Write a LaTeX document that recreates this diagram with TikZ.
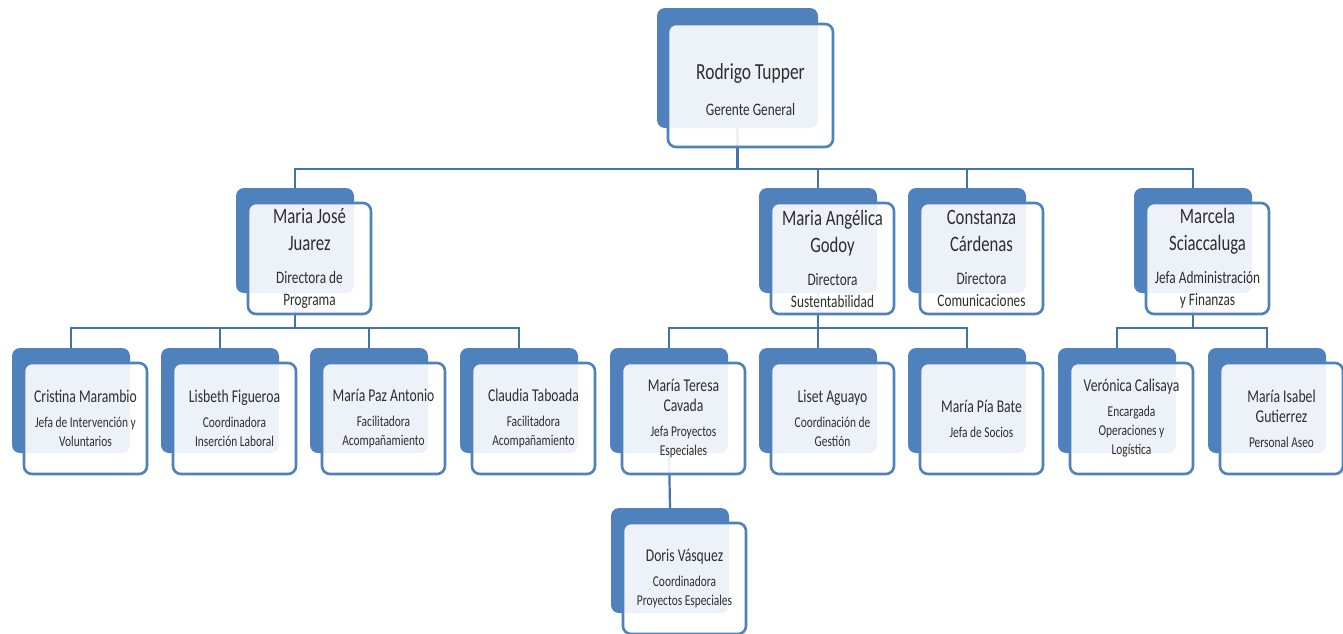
\documentclass[tikz,border=0pt]{standalone}
\usepackage{fontspec}
\setmainfont{Carlito}[FakeStretch=0.76]
\usetikzlibrary{backgrounds}
\definecolor{cblue}{HTML}{4F81BD}
\definecolor{lineblue}{HTML}{4472AA}
\definecolor{txt}{HTML}{2E2E2E}
\newcommand\nmtop{\fontsize{23}{28}\selectfont}
\newcommand\nmmid{\fontsize{22}{27}\selectfont}
\newcommand\nmlow{\fontsize{18}{20}\selectfont}
\newcommand\tttop{\fontsize{17.5}{21}\selectfont}
\newcommand\ttmid{\fontsize{17.5}{22}\selectfont}
\newcommand\ttlow{\fontsize{15}{19}\selectfont}
\tikzset{
  backbox/.style={rectangle, rounded corners=8pt, fill=cblue, draw=none, anchor=north west,
    minimum width=118pt, minimum height=105pt, inner sep=0pt, outer sep=0pt},
  frontbox/.style={rectangle, rounded corners=8pt, draw=cblue, line width=2.6pt, fill=white,
    fill opacity=0.9, text opacity=1, anchor=north west, minimum width=123pt, minimum height=111pt,
    inner sep=0pt, outer sep=0pt, align=center, text=txt},
  midtext/.style={font=\fontsize{17.5}{22}\selectfont},
  lowtext/.style={font=\fontsize{15}{19}\selectfont},
  toptext/.style={font=\fontsize{17.5}{21}\selectfont},
  conn/.style={draw=lineblue, line width=2.2pt},
}
\newcommand\obox[5][]{%
  \node[backbox,#1] (#2B) at (#3,#4) {};
  \node[frontbox,#1] (#2) at (#3+12,#4+15) {#5};}
\begin{document}
\begin{tikzpicture}[x=1pt,y=-1pt]
\useasboundingbox (0,0) rectangle (1343,633);
% top
\node[backbox, minimum width=161pt, minimum height=120pt] (topB) at (657,8) {};
\node[frontbox, toptext, minimum width=165pt, minimum height=123pt] (top) at (668,24)
  {{\nmtop\rule{0pt}{24pt}Rodrigo Tupper}\\[15pt]{\tttop Gerente General}};
% second tier
\obox[midtext]{mj}{236}{188}{{\nmmid Maria José}\\[5pt]{\nmmid Juarez}\\[11pt]{\ttmid Directora de}\\{\ttmid Programa}}
\obox[midtext]{mag}{759}{188}{{\nmmid Maria Angélica}\\[5pt]{\nmmid Godoy}\\[11pt]{\ttmid Directora}\\{\ttmid Sustentabilidad}}
\obox[midtext]{con}{908}{188}{{\nmmid Constanza}\\[5pt]{\nmmid Cárdenas}\\[11pt]{\ttmid Directora}\\{\ttmid Comunicaciones}}
\obox[midtext]{mar}{1134}{188}{{\nmmid Marcela}\\[5pt]{\nmmid Sciaccaluga}\\[11pt]{\ttmid Jefa Administración}\\{\ttmid y Finanzas}}
% third tier
\obox[lowtext]{cri}{12}{348}{{\nmlow Cristina Marambio}\\[6pt]{\ttlow Jefa de Intervención y}\\{\ttlow Voluntarios}}
\obox[lowtext]{lis}{161}{348}{{\nmlow Lisbeth Figueroa}\\[6pt]{\ttlow Coordinadora}\\{\ttlow Inserción Laboral}}
\obox[lowtext]{mpa}{310}{348}{{\nmlow María Paz Antonio}\\[6pt]{\ttlow Facilitadora}\\{\ttlow Acompañamiento}}
\obox[lowtext]{cla}{460}{348}{{\nmlow Claudia Taboada}\\[6pt]{\ttlow Facilitadora}\\{\ttlow Acompañamiento}}
\obox[lowtext]{mte}{610}{348}{{\nmlow María Teresa}\\[1pt]{\nmlow Cavada}\\[6pt]{\ttlow Jefa Proyectos}\\{\ttlow Especiales}}
\obox[lowtext]{lia}{759}{348}{{\nmlow Liset Aguayo}\\[6pt]{\ttlow Coordinación de}\\{\ttlow Gestión}}
\obox[lowtext]{mpb}{908}{348}{{\nmlow María Pía Bate}\\[6pt]{\ttlow Jefa de Socios}}
\obox[lowtext]{ver}{1058}{348}{{\nmlow Verónica Calisaya}\\[6pt]{\ttlow Encargada}\\{\ttlow Operaciones y}\\{\ttlow Logística}}
\obox[lowtext]{mis}{1208}{348}{{\nmlow María Isabel}\\[1pt]{\nmlow Gutierrez}\\[6pt]{\ttlow Personal Aseo}}
% fourth tier
\obox[lowtext]{dor}{611}{508}{{\nmlow Doris Vásquez}\\[6pt]{\ttlow Coordinadora}\\{\ttlow Proyectos Especiales}}
% connectors
\coordinate (bus0) at (0,169);
\coordinate (busA) at (0,328);
\begin{scope}[on background layer]
\draw[conn] (topB.south) -- (bus0 -| topB.south);
\draw[conn] (mjB.north) -- (bus0 -| mjB.north) -- (bus0 -| marB.north) -- (marB.north);
\draw[conn] (bus0 -| magB.north) -- (magB.north);
\draw[conn] (bus0 -| conB.north) -- (conB.north);
\draw[conn] (mjB.south) -- (busA -| mjB.south);
\draw[conn] (criB.north) -- (busA -| criB.north) -- (busA -| claB.north) -- (claB.north);
\draw[conn] (busA -| lisB.north) -- (lisB.north);
\draw[conn] (busA -| mpaB.north) -- (mpaB.north);
\draw[conn] (magB.south) -- (busA -| magB.south);
\draw[conn] (mteB.north) -- (busA -| mteB.north) -- (busA -| mpbB.north) -- (mpbB.north);
\draw[conn] (busA -| liaB.north) -- (liaB.north);
\draw[conn] (marB.south) -- (busA -| marB.south);
\draw[conn] (verB.north) -- (busA -| verB.north) -- (busA -| misB.north) -- (misB.north);
\draw[conn] (mteB.south) -- (dorB.north);
\end{scope}
\end{tikzpicture}
\end{document}
